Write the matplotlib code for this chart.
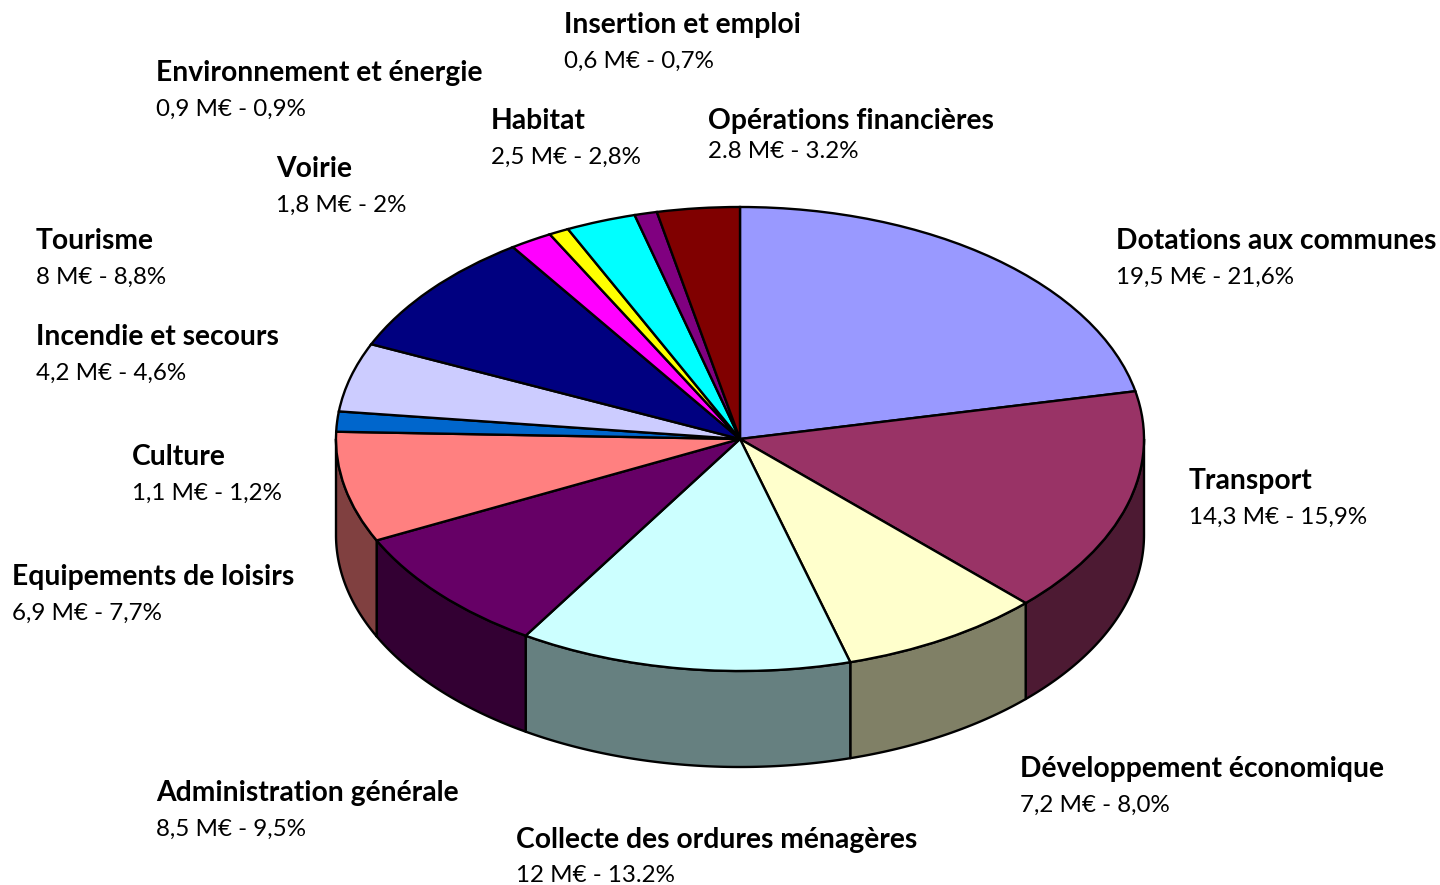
# camembert 3D (style Excel) : budget par poste
import numpy as np
import matplotlib
matplotlib.use("Agg")
import matplotlib.pyplot as plt

W, H = 1440, 885

categories = ["Dotations aux communes", "Transport", "Développement économique",
              "Collecte des ordures ménagères", "Administration générale",
              "Equipements de loisirs", "Culture", "Incendie et secours", "Tourisme",
              "Voirie", "Environnement et énergie", "Habitat", "Insertion et emploi",
              "Opérations financières"]
# parts (les parts tracees s'ecartent un peu des pourcentages affiches)
shares = [21.7, 15.8, 8.1, 13.3, 8.9, 7.7, 1.4, 4.8, 8.8, 1.7, 0.8, 2.8, 0.9, 3.3]
value_labels = ["19,5 M€ - 21,6%", "14,3 M€ - 15,9%", "7,2 M€ - 8,0%", "12 M€ - 13.2%",
                "8,5 M€ - 9,5%", "6,9 M€ - 7,7%", "1,1 M€ - 1,2%", "4,2 M€ - 4,6%",
                "8 M€ - 8,8%", "1,8 M€ - 2%", "0,9 M€ - 0,9%", "2,5 M€ - 2,8%",
                "0,6 M€ - 0,7%", "2.8 M€ - 3.2%"]
colors = ["#9999FF", "#993366", "#FFFFCC", "#CCFFFF", "#660066", "#FF8080", "#0066CC",
          "#CCCCFF", "#000080", "#FF00FF", "#FFFF00", "#00FFFF", "#800080", "#800000"]

# position des etiquettes en pixels (gauche, centre de la ligne en gras)
label_x = [1116, 1189, 1020, 516, 156, 12, 132, 36, 36, 276, 156, 491, 564, 708]
label_y = [241, 481, 769, 840, 793, 577, 457, 337, 241, 169, 73, 121, 25, 121]
line_gap = [36, 36, 36, 36, 36, 36, 36, 36, 36, 36, 36, 36, 36, 30]

# geometrie de l'ellipse en pixels
cx, cy, rx, ry, depth = 740, 439, 404, 232, 96
lw = 1.7

fig = plt.figure(figsize=(W / 100, H / 100), dpi=100)
ax = fig.add_axes([0, 0, 1, 1])

# parois : seulement la moitie avant, angles comptes depuis le haut en sens horaire
d = depth / ry
edges = np.cumsum([0] + shares) / sum(shares) * 360
for i, c in enumerate(colors):
    a0, a1 = max(edges[i], 90), min(edges[i + 1], 270)
    if a1 <= a0:
        continue
    t = np.radians(np.linspace(a0, a1, 80))
    x, y = np.sin(t), np.cos(t)
    side = np.array(matplotlib.colors.to_rgb(c)) * 0.5
    ax.fill(np.r_[x, x[::-1]], np.r_[y, y[::-1] - d], facecolor=side,
            edgecolor="black", linewidth=lw, joinstyle="round", zorder=1)

# dessus
wedges, _ = ax.pie(shares, colors=colors, startangle=90, counterclock=False,
                   wedgeprops=dict(edgecolor="black", linewidth=lw, zorder=2))

ax.set_aspect("auto")
ax.set_xlim(-cx / rx, (W - cx) / rx)
ax.set_ylim((cy - H) / ry, cy / ry)
ax.axis("off")

for i, name in enumerate(categories):
    fig.text(label_x[i] / W, 1 - label_y[i] / H, name, family="Lato", weight="bold",
             fontsize=20.3, va="center", ha="left")
    fig.text(label_x[i] / W, 1 - (label_y[i] + line_gap[i]) / H, value_labels[i],
             family="Lato", fontsize=17.4, va="center", ha="left")

fig.savefig("out.png", dpi=100)
